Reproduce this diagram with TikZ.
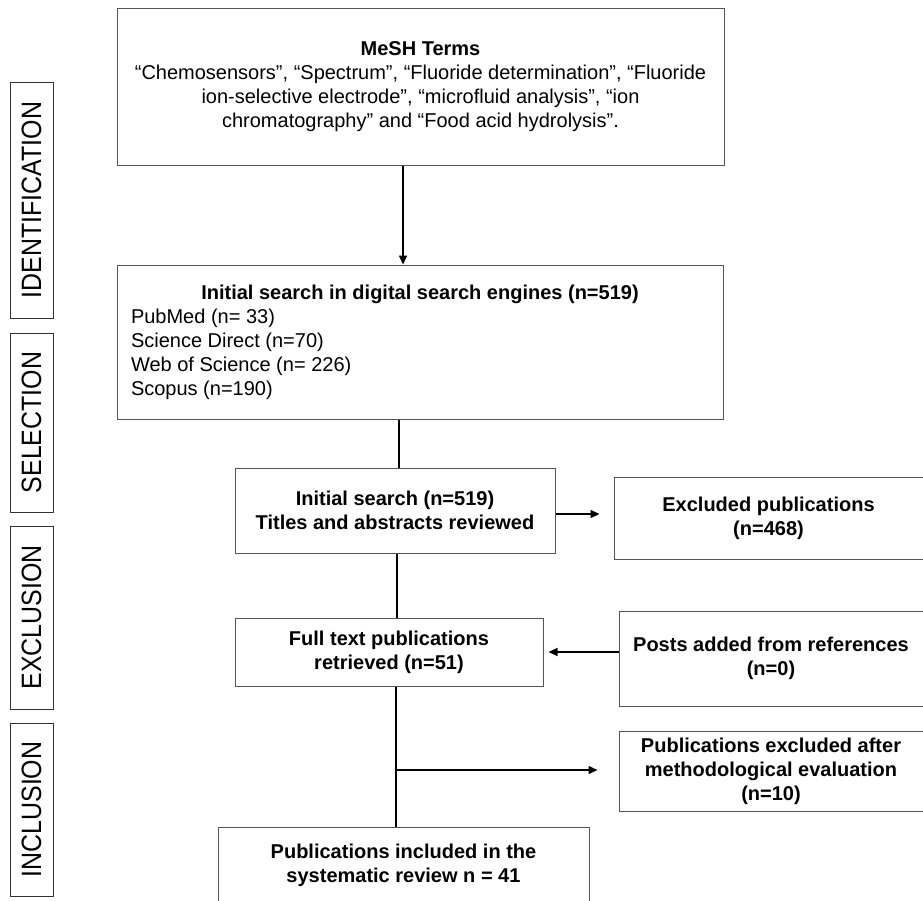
\documentclass[tikz,border=0pt]{standalone}
\usepackage{fontspec}
\setmainfont{Liberation Sans}
\usetikzlibrary{arrows.meta,calc}
\definecolor{boxgray}{HTML}{555555}
\begin{document}
\begin{tikzpicture}[x=1pt,y=-1pt,
  box/.style={draw=boxgray,line width=1pt,rectangle,inner sep=0pt,align=center,
    font=\fontsize{20}{24}\selectfont},
  side/.style={draw=black!80,line width=1pt,rectangle,inner sep=0pt,rotate=90,
    font=\fontsize{28}{30}\selectfont},
  conn/.style={line width=1.4pt,black},
  arr/.style={conn,-{Triangle[length=9pt,width=8pt]}}]
\useasboundingbox (0,0) rectangle (923,900);
\fill[white] (0,0) rectangle (923,900);
% side labels
\node[side,minimum width=236,minimum height=43] (sid) at (31.5,200) {\scalebox{0.89}[1]{IDENTIFICATION}};
\node[side,minimum width=179,minimum height=43] (ssel) at (31.5,422.5) {\scalebox{0.89}[1]{SELECTION}};
\node[side,minimum width=183,minimum height=43] (sexc) at (31.5,617.5) {\scalebox{0.89}[1]{EXCLUSION}};
\node[side,minimum width=173,minimum height=43] (sinc) at (31.5,809.5) {\scalebox{0.89}[1]{INCLUSION}};
% boxes
\node[box,minimum width=607,minimum height=157] (mesh) at (420.5,86.5)
  {\textbf{MeSH Terms}\\
   “Chemosensors”, “Spectrum”, “Fluoride determination”, “Fluoride\\
   ion-selective electrode”, “microfluid analysis”, “ion\\
   chromatography” and “Food acid hydrolysis”.};
\node[box,minimum width=606,minimum height=154,align=left] (init) at (420,342)
  {\makebox[578pt]{\textbf{Initial search in digital search engines (n=519)}}\\
   PubMed (n= 33)\hspace*{420pt}\\
   Science Direct (n=70)\\
   Web of Science (n= 226)\\
   Scopus (n=190)};
\node[box,minimum width=320,minimum height=85] (rev) at (395,510.5)
  {\textbf{Initial search (n=519)}\\ \textbf{Titles and abstracts reviewed}};
\node[box,minimum width=309,minimum height=82] (excl) at (768.5,518)
  {\textbf{Excluded publications}\\ \textbf{(n=468)}};
\node[box,minimum width=308,minimum height=68] (full) at (389,652)
  {\textbf{Full text publications}\\ \textbf{retrieved (n=51)}};
\node[box,minimum width=304,minimum height=95] (posts) at (771,658.5)
  {\textbf{Posts added from references}\\ \textbf{(n=0)}};
\node[box,minimum width=304,minimum height=80] (pubex) at (771,771)
  {\textbf{Publications excluded after}\\ \textbf{methodological evaluation}\\ \textbf{(n=10)}};
\node[box,minimum width=371,minimum height=76] (final) at (403.5,865)
  {\textbf{Publications included in the}\\ \textbf{systematic review n = 41}};
% connector helpers
\coordinate (c1) at (403,0);
\coordinate (c2) at (399,0);
\coordinate (c3) at (397,0);
\coordinate (c4) at (396,0);
\coordinate (br) at (396,770);
% connectors
\draw[arr] (mesh.south -| c1) -- (init.north -| c1);
\draw[conn] (init.south -| c2) -- (rev.north -| c2);
\draw[arr,shorten >=14pt] (rev.east |- 0,514) -- (excl.west |- 0,514);
\draw[conn] (rev.south -| c3) -- (full.north -| c3);
\draw[arr,shorten >=5pt] (posts.west |- 0,652) -- (full.east |- 0,652);
\draw[conn] (full.south -| c4) -- (final.north -| c4);
\draw[arr,shorten >=21pt] (br) -- (pubex.west |- br);
\end{tikzpicture}
\end{document}
